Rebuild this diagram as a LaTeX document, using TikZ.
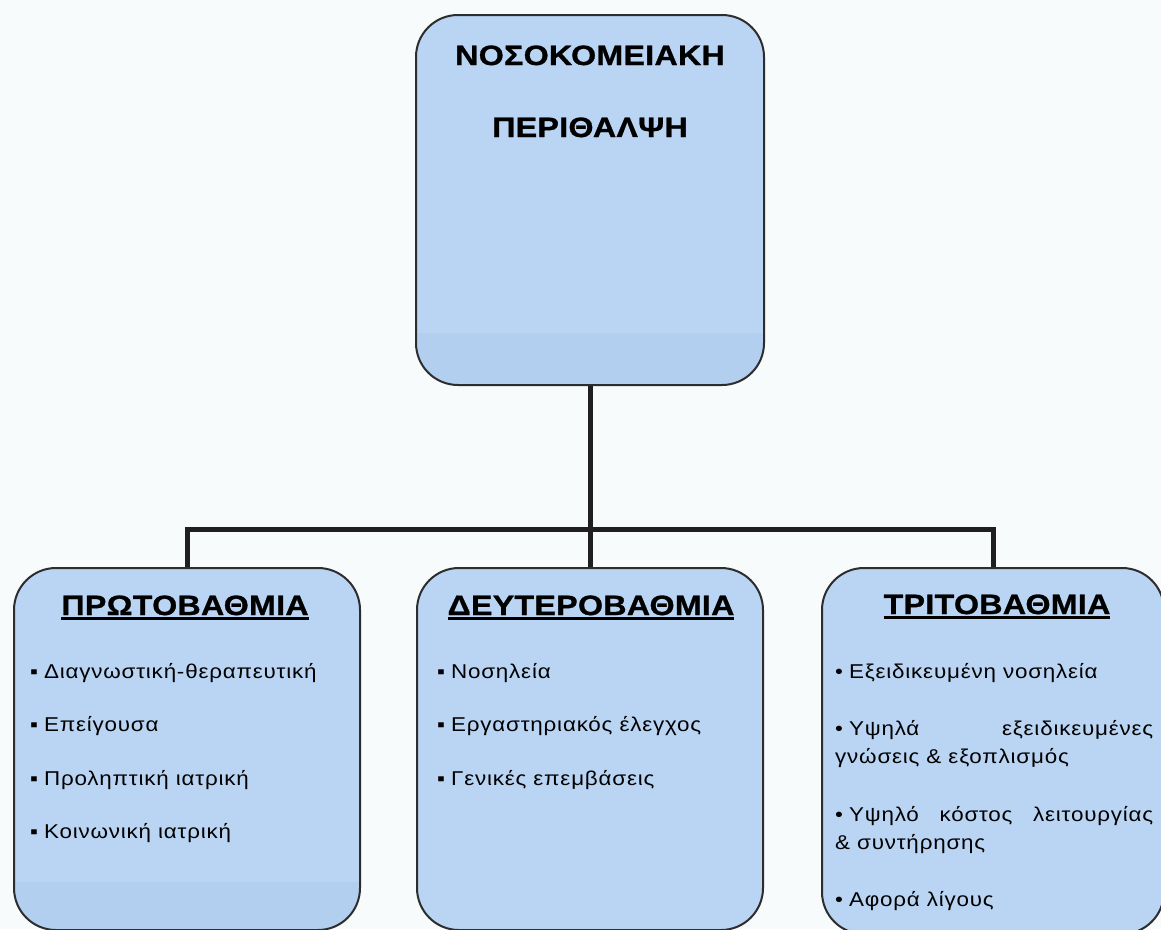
\documentclass[tikz,border=0pt]{standalone}
\usepackage{fontspec}
\setmainfont{Liberation Sans}
\newfontfamily\headface[FakeStretch=1.15,LetterSpace=1,FakeBold=1]{Liberation Sans}
\newfontfamily\itemface[FakeStretch=1.12,LetterSpace=4]{Liberation Sans}
\definecolor{boxblue}{RGB}{185,213,243}
\definecolor{bandblue}{RGB}{178,207,240}
\definecolor{paper}{RGB}{248,251,252}
\definecolor{edge}{RGB}{45,45,45}
\newcommand{\headul}[1]{\setbox0\hbox{#1}\rlap{\rule[-4.5pt]{\wd0}{2.4pt}}\box0}
\newcommand{\sqdot}{▪\kern6pt}
\newcommand{\rdot}{•\kern6pt}
\begin{document}
\begin{tikzpicture}[x=1pt,y=-1pt,
  box/.style={draw=edge,line width=2pt,fill=boxblue,rounded corners=42pt,inner sep=0pt},
  band/.style={path picture={\fill[bandblue,sharp corners] ([yshift=#1]path picture bounding box.south west)
      rectangle (path picture bounding box.south east);}},
  head/.style={anchor=base,inner sep=0pt,font=\headface\bfseries\fontsize{28}{30}\selectfont},
  item/.style={anchor=base west,inner sep=0pt,text width=#1,align=justify,
      font=\itemface\fontsize{20}{28.5}\selectfont},
  link/.style={line width=5pt,draw=black!88}]
  \useasboundingbox (0,0) rectangle (1161,929);
  \fill[paper] (0,0) rectangle (1161,929);

  % boxes
  \node[box,band=52pt,minimum width=348pt,minimum height=370pt] (care) at (590,200) {};
  \node[box,band=48pt,minimum width=346pt,minimum height=362pt] (first) at (187,749) {};
  \node[box,minimum width=346pt,minimum height=362pt] (second) at (590,749) {};
  \node[box,minimum width=342pt,minimum height=366pt] (third) at (993,751) {};

  % tree
  \draw[link] (care.south) -- (second.north);
  \draw[link] (first.north) -- ++(0,-38) -| (third.north);

  % titles
  \node[head] (careA) at (590,65) {ΝΟΣΟΚΟΜΕΙΑΚΗ};
  \node[head] (careB) at (590,137) {ΠΕΡΙΘΑΛΨΗ};
  \node[head] (firstH) at (185,615) {\headul{ΠΡΩΤΟΒΑΘΜΙΑ}};
  \node[head] (secondH) at (591,615) {\headul{ΔΕΥΤΕΡΟΒΑΘΜΙΑ}};
  \node[head] (thirdH) at (997,614) {\headul{ΤΡΙΤΟΒΑΘΜΙΑ}};

  % first level items
  \node[item=320pt] (f1) at (30,678) {\sqdot Διαγνωστική-θεραπευτική};
  \node[item=320pt] (f2) at (30,731) {\sqdot Επείγουσα};
  \node[item=320pt] (f3) at (30,785) {\sqdot Προληπτική ιατρική};
  \node[item=320pt] (f4) at (30,838) {\sqdot Κοινωνική ιατρική};

  % second level items
  \node[item=320pt] (s1) at (437,678) {\sqdot Νοσηλεία};
  \node[item=320pt] (s2) at (437,731) {\sqdot Εργαστηριακός έλεγχος};
  \node[item=320pt] (s3) at (437,785) {\sqdot Γενικές επεμβάσεις};

  % third level items
  \node[item=318pt] (t1) at (835,678) {\rdot Εξειδικευμένη νοσηλεία};
  \node[item=318pt] (t2) at (835,735) {\rdot Υψηλά εξειδικευμένες γνώσεις \& εξοπλισμός};
  \node[item=318pt] (t3) at (835,821) {\rdot Υψηλό κόστος λειτουργίας \&~συντήρησης};
  \node[item=318pt] (t4) at (835,906) {\rdot Αφορά λίγους};
\end{tikzpicture}
\end{document}
